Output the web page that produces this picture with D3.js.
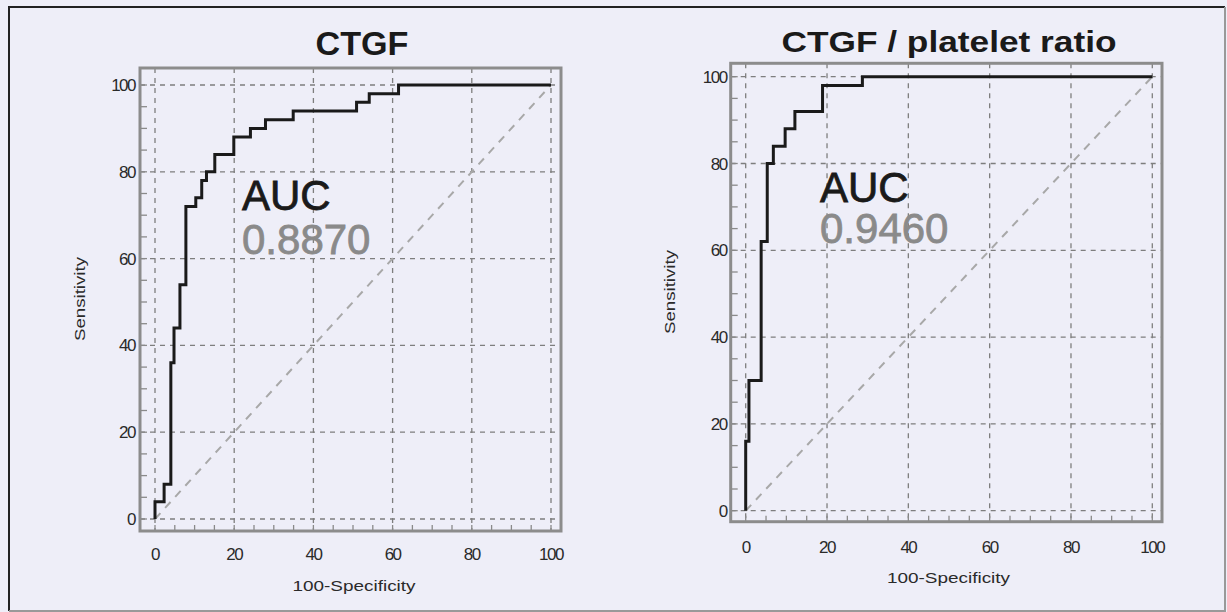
<!DOCTYPE html>
<html>
  <head>
    <meta charset="utf-8">
    <title>ROC curves</title>
    <script src="https://d3js.org/d3.v7.min.js"></script>
    <style>
      body { margin: 0; background: #eeeef8; }
      svg { display: block; font-family: "Liberation Sans", Arial, sans-serif; }
    </style>
  </head>
  <body>
    <div id="chart"></div>
    <script>
      // ROC step points: 100-specificity (x) and sensitivity (y)
      var ctgfFpr = [0, 0, 2.3, 4, 4.8, 6.3, 7.8, 10.3, 11.8, 13, 15.1, 19.9, 24.1, 27.9, 34.9, 50.9, 54.1, 61.5, 100];
      var ctgfTpr = [0, 4, 8, 36, 44, 54, 72, 74, 78, 80, 84, 88, 90, 92, 94, 96, 98, 100, 100];
      var ratioFpr = [0, 0, 0.8, 3.8, 5.3, 6.8, 9.7, 12.1, 18.9, 28.7, 100];
      var ratioTpr = [0, 16, 30, 62, 80, 84, 88, 92, 98, 100, 100];
      var titles = ["CTGF", "CTGF / platelet ratio"];
      var aucValues = ["0.8870", "0.9460"];
      var majorTicks = [0, 20, 40, 60, 80, 100];
      var minorTicks = d3.range(0, 101, 5);

      var W = 1227, H = 612;
      var svg = d3.select("#chart").append("svg")
        .attr("width", W)
        .attr("height", H);

      // outer frame
      svg.append("rect").attr("width", W).attr("height", H).attr("fill", "#eeeef8");
      svg.append("path").attr("d", "M9,611V7H1225").attr("fill", "none").attr("stroke", "#222").attr("stroke-width", 2);
      svg.append("path").attr("d", "M1225,7V611H9").attr("fill", "none").attr("stroke", "#999").attr("stroke-width", 2);

      var panels = [
        { fpr: ctgfFpr, tpr: ctgfTpr, title: titles[0], auc: aucValues[0],
          box: [140, 561, 68, 531], xr: [155, 551], yr: [519, 85],
          titleX: 362, titleY: 55, titleSize: 33, titleLen: 93,
          aucX: 242, aucY: 210, valY: 254,
          yTickX: 135, xTickY: 560, xLabel: [354, 591], yLabel: [85, 299] },
        { fpr: ratioFpr, tpr: ratioTpr, title: titles[1], auc: aucValues[1],
          box: [730.7, 1162, 63.3, 521.7], xr: [745.7, 1152.3], yr: [510.7, 76.7],
          titleX: 949, titleY: 52, titleSize: 30, titleLen: 335,
          aucX: 820, aucY: 201.7, valY: 243.3,
          yTickX: 726.7, xTickY: 553, xLabel: [948.5, 583], yLabel: [675, 292] }
      ];

      panels.forEach(drawPanel);

      function drawPanel(p) {
        var g = svg.append("g");
        var x = d3.scaleLinear().domain([0, 100]).range(p.xr);
        var y = d3.scaleLinear().domain([0, 100]).range(p.yr);
        var b = p.box;

        // title
        g.append("text")
          .attr("x", p.titleX).attr("y", p.titleY)
          .attr("text-anchor", "middle")
          .attr("font-size", p.titleSize).attr("font-weight", "bold")
          .attr("fill", "#1a1a1a")
          .attr("textLength", p.titleLen).attr("lengthAdjust", "spacingAndGlyphs")
          .text(p.title);

        // grid
        g.selectAll(".vgrid").data(majorTicks).enter().append("line")
          .attr("x1", function(d) { return x(d); }).attr("x2", function(d) { return x(d); })
          .attr("y1", b[2]).attr("y2", b[3])
          .attr("stroke", "#7e7e7e").attr("stroke-width", 1.3).attr("stroke-dasharray", "5,5");
        g.selectAll(".hgrid").data(majorTicks).enter().append("line")
          .attr("x1", b[0]).attr("x2", b[1])
          .attr("y1", function(d) { return y(d); }).attr("y2", function(d) { return y(d); })
          .attr("stroke", "#7e7e7e").attr("stroke-width", 1.3).attr("stroke-dasharray", "5,5");

        // diagonal reference
        g.append("line")
          .attr("x1", x(0)).attr("y1", y(0)).attr("x2", x(100)).attr("y2", y(100))
          .attr("stroke", "#a8a8a8").attr("stroke-width", 2).attr("stroke-dasharray", "8,7");

        // minor ticks
        g.selectAll(".ytick").data(minorTicks).enter().append("line")
          .attr("x1", b[0]).attr("x2", b[0] + 7)
          .attr("y1", function(d) { return y(d); }).attr("y2", function(d) { return y(d); })
          .attr("stroke", "#8a8a8a").attr("stroke-width", 1.3);
        g.selectAll(".xtick").data(minorTicks).enter().append("line")
          .attr("x1", function(d) { return x(d); }).attr("x2", function(d) { return x(d); })
          .attr("y1", b[3]).attr("y2", b[3] - 6)
          .attr("stroke", "#8a8a8a").attr("stroke-width", 1.3);

        // box
        g.append("rect")
          .attr("x", b[0]).attr("y", b[2])
          .attr("width", b[1] - b[0]).attr("height", b[3] - b[2])
          .attr("fill", "none").attr("stroke", "#8c8c8c").attr("stroke-width", 3);

        // tick labels
        g.selectAll(".ylab").data(majorTicks).enter().append("text")
          .attr("x", p.yTickX).attr("y", function(d) { return y(d) + 6; })
          .attr("text-anchor", "end").attr("font-size", 17).attr("letter-spacing", -1.5)
          .attr("fill", "#2a2a2a")
          .text(function(d) { return d; });
        g.selectAll(".xlab").data(majorTicks).enter().append("text")
          .attr("x", function(d) { return x(d); }).attr("y", p.xTickY)
          .attr("text-anchor", "middle").attr("font-size", 17).attr("letter-spacing", -1.5)
          .attr("fill", "#2a2a2a")
          .text(function(d) { return d; });

        // axis titles
        g.append("text")
          .attr("x", p.xLabel[0]).attr("y", p.xLabel[1])
          .attr("text-anchor", "middle").attr("font-size", 15).attr("fill", "#2a2a2a")
          .attr("textLength", 123).attr("lengthAdjust", "spacingAndGlyphs")
          .text("100-Specificity");
        g.append("text")
          .attr("transform", "translate(" + p.yLabel[0] + "," + p.yLabel[1] + ") rotate(-90)")
          .attr("text-anchor", "middle").attr("font-size", 15).attr("fill", "#2a2a2a")
          .attr("textLength", 84).attr("lengthAdjust", "spacingAndGlyphs")
          .text("Sensitivity");

        // ROC curve
        var pts = p.fpr.map(function(d, i) { return [d, p.tpr[i]]; });
        g.append("path")
          .attr("d", d3.line()
            .x(function(d) { return x(d[0]); })
            .y(function(d) { return y(d[1]); })
            .curve(d3.curveStepAfter)(pts))
          .attr("fill", "none").attr("stroke", "#1a1a1a").attr("stroke-width", 3);

        // AUC annotation (slightly heavier than regular)
        g.append("text")
          .attr("x", p.aucX).attr("y", p.aucY)
          .attr("font-size", 42).attr("fill", "#1a1a1a")
          .attr("stroke", "#1a1a1a").attr("stroke-width", 0.8)
          .text("AUC");
        g.append("text")
          .attr("x", p.aucX).attr("y", p.valY)
          .attr("font-size", 42).attr("fill", "#8a8a8a")
          .attr("stroke", "#8a8a8a").attr("stroke-width", 0.8)
          .text(p.auc);
      }
    </script>
  </body>
</html>
